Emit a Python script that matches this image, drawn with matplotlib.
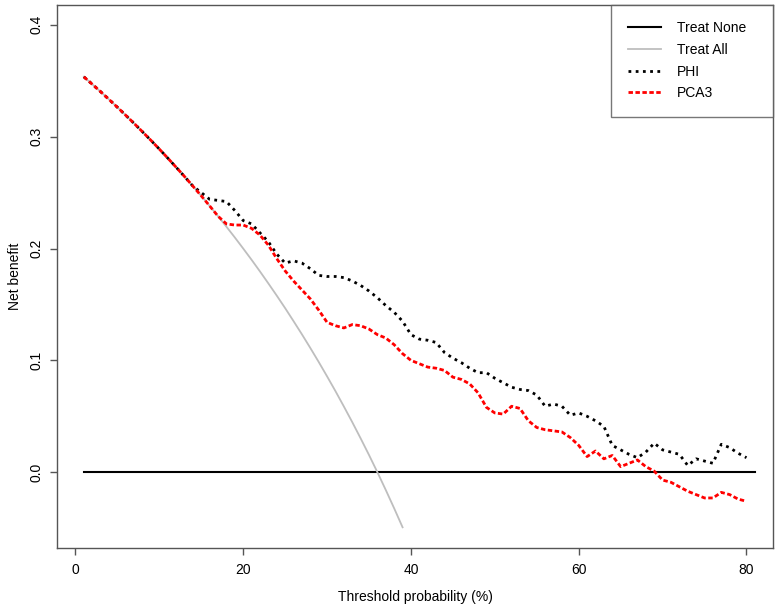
import matplotlib
matplotlib.use('Agg')
import matplotlib.pyplot as plt

plt.rcParams['font.family'] = ['Liberation Sans', 'DejaVu Sans']

# threshold probability (%)
thresholds = list(range(1, 81))
none_x = [1, 81]
none_nb = [0, 0]

all_x = list(range(1, 40))
all_nb = [0.3535, 0.3469, 0.3402, 0.3333, 0.3263, 0.3191, 0.3118, 0.3043, 0.2967, 0.2889,
          0.2809, 0.2727, 0.2644, 0.2558, 0.2471, 0.2381, 0.2289, 0.2195, 0.2099, 0.2000,
          0.1899, 0.1795, 0.1688, 0.1579, 0.1467, 0.1351, 0.1233, 0.1111, 0.0986, 0.0857,
          0.0725, 0.0588, 0.0448, 0.0303, 0.0154, 0.0000, -0.0159, -0.0323, -0.0492]

phi_nb = [0.3535, 0.3469, 0.3402, 0.3333, 0.3263, 0.3191, 0.3118, 0.3043, 0.2967, 0.2889,
          0.2809, 0.2727, 0.2644, 0.2558, 0.250, 0.244, 0.243, 0.242, 0.234, 0.225,
          0.222, 0.214, 0.206, 0.195, 0.187, 0.189, 0.187, 0.182, 0.176, 0.175,
          0.175, 0.174, 0.171, 0.167, 0.162, 0.156, 0.149, 0.143, 0.135, 0.123,
          0.119, 0.118, 0.116, 0.107, 0.102, 0.098, 0.093, 0.089, 0.089, 0.084,
          0.080, 0.076, 0.074, 0.073, 0.069, 0.059, 0.061, 0.059, 0.051, 0.053,
          0.050, 0.046, 0.041, 0.024, 0.020, 0.016, 0.013, 0.018, 0.026, 0.020,
          0.018, 0.016, 0.006, 0.012, 0.010, 0.008, 0.025, 0.022, 0.017, 0.013]

pca3_nb = [0.3535, 0.3469, 0.3402, 0.3333, 0.3263, 0.3191, 0.3118, 0.3043, 0.2967, 0.2889,
           0.2809, 0.2727, 0.2644, 0.2558, 0.2471, 0.2381, 0.2289, 0.222, 0.221, 0.221,
           0.218, 0.212, 0.203, 0.191, 0.180, 0.171, 0.163, 0.155, 0.145, 0.134,
           0.131, 0.129, 0.132, 0.131, 0.128, 0.123, 0.120, 0.114, 0.106, 0.100,
           0.097, 0.094, 0.093, 0.091, 0.085, 0.083, 0.079, 0.071, 0.058, 0.053,
           0.052, 0.059, 0.057, 0.046, 0.040, 0.038, 0.037, 0.036, 0.031, 0.024,
           0.014, 0.019, 0.012, 0.015, 0.005, 0.008, 0.011, 0.005, 0.001, -0.007,
           -0.009, -0.013, -0.017, -0.020, -0.023, -0.023, -0.018, -0.020, -0.024, -0.026]

xticks = [0, 20, 40, 60, 80]
yticks = [0.0, 0.1, 0.2, 0.3, 0.4]

fig = plt.figure(figsize=(7.8, 6.07), dpi=100)
ax = fig.add_axes([0.0735, 0.0967, 0.9175, 0.8956])

ax.plot(none_x, none_nb, color='black', lw=1.5, label='Treat None')
ax.plot(all_x, all_nb, color='#bebebe', lw=1.3, label='Treat All')
ax.plot(thresholds, phi_nb, color='black', lw=2, linestyle=(0, (1, 1.6)), label='PHI')
ax.plot(thresholds, pca3_nb, color='red', lw=2, linestyle=(0, (1.6, 0.9)), label='PCA3')

# R style 4% padding around (1, 80) and (-0.05, 0.4)
ax.set_xlim(1 - 0.04 * 79, 80 + 0.04 * 79)
ax.set_ylim(-0.05 - 0.04 * 0.45, 0.4 + 0.04 * 0.45)

ax.set_xticks(xticks)
ax.set_xticklabels([str(t) for t in xticks])
ax.set_yticks(yticks)
ax.set_yticklabels([f'{t:.1f}' for t in yticks], rotation=90, va='center')
ax.tick_params(length=5, width=1, color='#555555', labelsize=10, pad=5.3)

for s in ax.spines.values():
    s.set_color('#555555')
    s.set_linewidth(1)

ax.set_xlabel('Threshold probability (%)', fontsize=10, labelpad=10)
ax.set_ylabel('Net benefit', fontsize=10, labelpad=5)

leg = ax.legend(loc='upper right', bbox_to_anchor=(0.774, 0.79, 0.226, 0.21),
                mode='expand', frameon=True, fancybox=False, fontsize=10,
                borderaxespad=0, borderpad=1.2, labelspacing=0.55,
                handlelength=2.4, handletextpad=1.1)
leg.get_frame().set_edgecolor('#555555')
leg.get_frame().set_linewidth(1)

fig.savefig('out.png', dpi=100)
